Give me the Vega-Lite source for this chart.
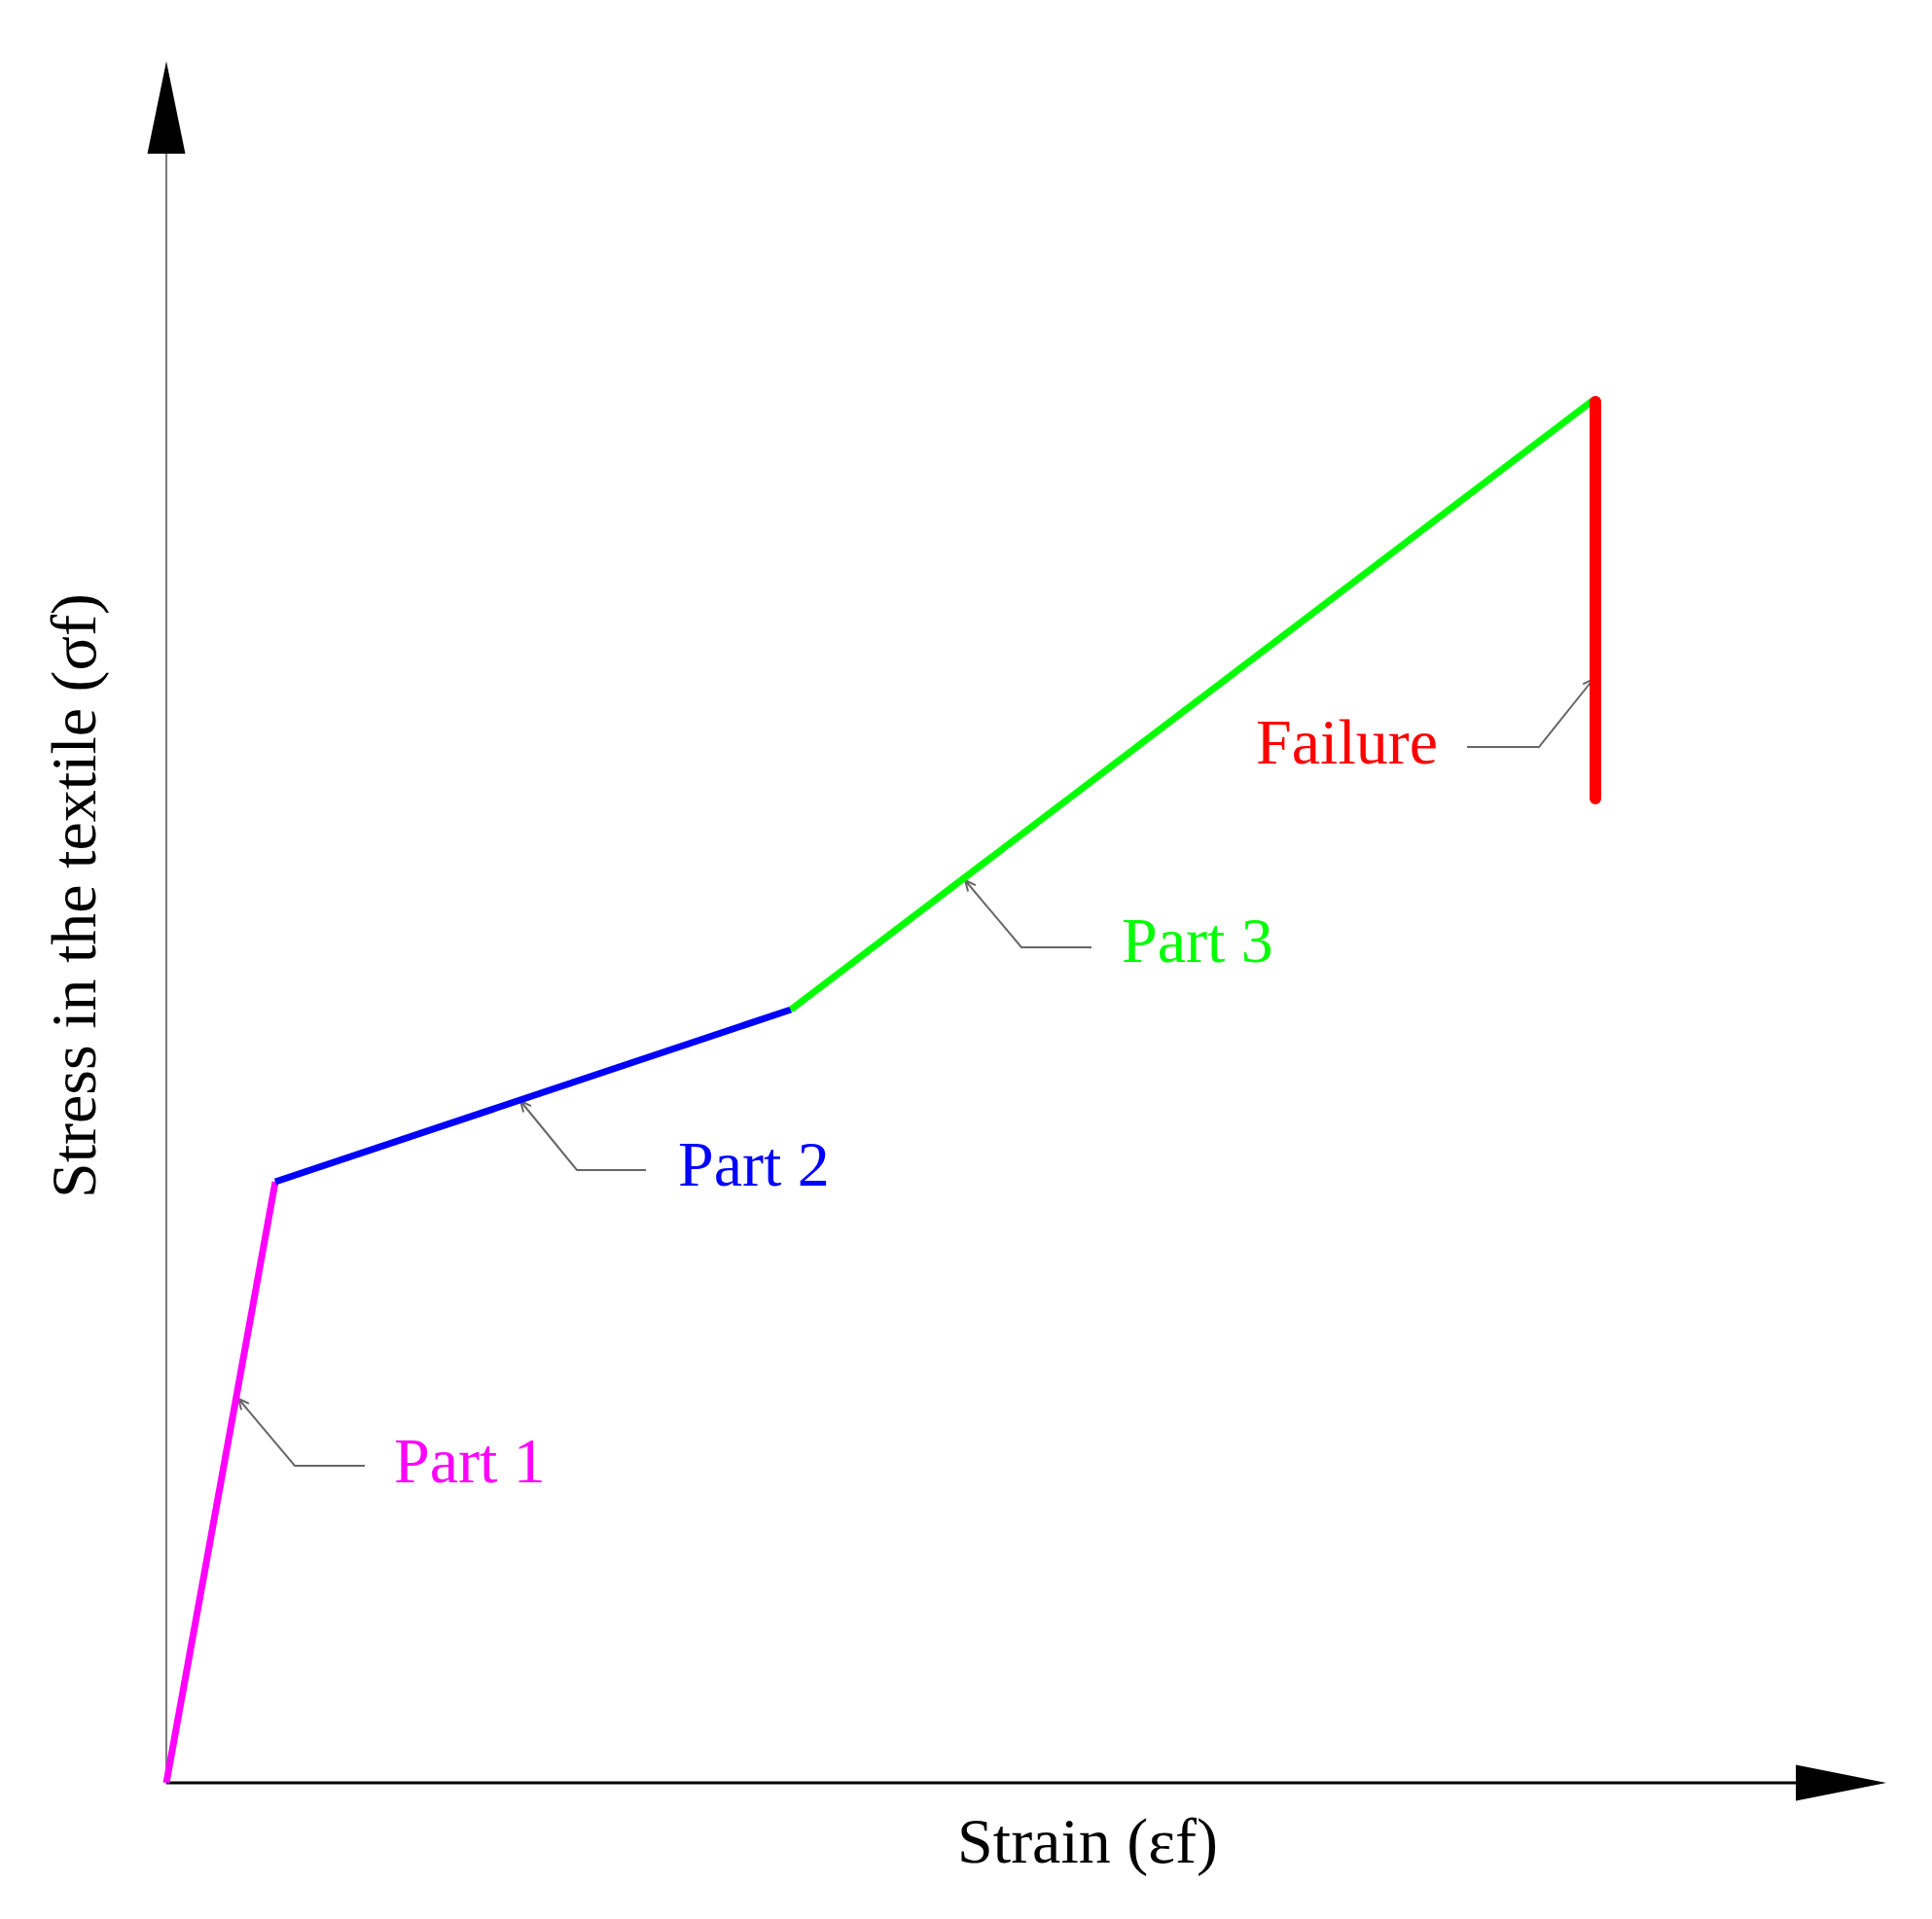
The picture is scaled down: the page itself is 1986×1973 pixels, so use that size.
{
  "$schema": "https://vega.github.io/schema/vega-lite/v6.json",
  "autosize": {"type": "none"},
  "padding": {"left": 171, "top": 63, "right": 47, "bottom": 140},
  "width": 1768,
  "height": 1770,
  "background": "white",
  "config": {"view": {"stroke": null}},
  "datasets": {
    "curve": [
      {"part": "Part 1", "x": 0, "y": 0, "o": 0},
      {"part": "Part 1", "x": 112, "y": 618, "o": 1},
      {"part": "Part 2", "x": 112, "y": 618, "o": 0},
      {"part": "Part 2", "x": 642, "y": 795, "o": 1},
      {"part": "Part 3", "x": 642, "y": 795, "o": 0},
      {"part": "Part 3", "x": 1466, "y": 1421, "o": 1}
    ],
    "failure": [
      {"part": "Failure", "x": 1469, "y": 1012, "y2": 1420}
    ],
    "axisX": [{"x": 0, "y": 0, "x2": 1721, "y2": 0}],
    "axisY": [{"x": 0, "y": 0, "x2": 0, "y2": 1722}],
    "arrowY": [{"x": 0, "y": 1722.5}],
    "arrowX": [{"x": 1721.5, "y": 0}],
    "leaders": [
      {"part": "Part 1", "o": 0, "x": 204, "y": 326},
      {"part": "Part 1", "o": 1, "x": 132, "y": 326},
      {"part": "Part 1", "o": 2, "x": 74, "y": 395},
      {"part": "Part 1", "o": 3, "x": 84.9, "y": 389.9},
      {"part": "Part 1", "o": 4, "x": 74, "y": 395},
      {"part": "Part 1", "o": 5, "x": 77.1, "y": 383.4},
      {"part": "Part 2", "o": 0, "x": 493, "y": 630},
      {"part": "Part 2", "o": 1, "x": 422, "y": 630},
      {"part": "Part 2", "o": 2, "x": 364, "y": 701},
      {"part": "Part 2", "o": 3, "x": 374.9, "y": 695.9},
      {"part": "Part 2", "o": 4, "x": 364, "y": 701},
      {"part": "Part 2", "o": 5, "x": 367.1, "y": 689.4},
      {"part": "Part 3", "o": 0, "x": 951, "y": 859},
      {"part": "Part 3", "o": 1, "x": 879, "y": 859},
      {"part": "Part 3", "o": 2, "x": 821, "y": 928},
      {"part": "Part 3", "o": 3, "x": 831.9, "y": 922.9},
      {"part": "Part 3", "o": 4, "x": 821, "y": 928},
      {"part": "Part 3", "o": 5, "x": 824.1, "y": 916.4},
      {"part": "Failure", "o": 0, "x": 1337, "y": 1065},
      {"part": "Failure", "o": 1, "x": 1411, "y": 1065},
      {"part": "Failure", "o": 2, "x": 1467, "y": 1135},
      {"part": "Failure", "o": 3, "x": 1464.2, "y": 1123.3},
      {"part": "Failure", "o": 4, "x": 1467, "y": 1135},
      {"part": "Failure", "o": 5, "x": 1456.2, "y": 1129.7}
    ],
    "labelsLeft": [
      {"part": "Part 1", "x": 234, "y": 309},
      {"part": "Part 2", "x": 526, "y": 614},
      {"part": "Part 3", "x": 982, "y": 844}
    ],
    "labelsRight": [
      {"part": "Failure", "x": 1307, "y": 1048}
    ],
    "xtitle": [{"t": "Strain (εf)", "x": 947, "y": -82}],
    "ytitle": [{"t": "Stress in the textile (σf)", "x": -73, "y": 912}]
  },
  "layer": [
    {
      "data": {"name": "axisX"},
      "mark": {"type": "rule", "strokeCap": "butt", "color": "#000000", "strokeWidth": 3},
      "encoding": {
        "x": {"field": "x", "type": "quantitative", "scale": {"domain": [0, 1768], "nice": false, "zero": false}, "axis": null},
        "y": {"field": "y", "type": "quantitative", "scale": {"domain": [0, 1770], "nice": false, "zero": false}, "axis": null},
        "x2": {"field": "x2"},
        "y2": {"field": "y2"}
      }
    },
    {
      "data": {"name": "axisY"},
      "mark": {"type": "rule", "strokeCap": "butt", "color": "#7a7a7a", "strokeWidth": 2},
      "encoding": {
        "x": {"field": "x", "type": "quantitative"},
        "y": {"field": "y", "type": "quantitative"},
        "x2": {"field": "x2"},
        "y2": {"field": "y2"}
      }
    },
    {
      "data": {"name": "arrowY"},
      "mark": {"type": "point", "shape": "M0,-1L0.41,1L-0.41,1Z", "size": 9025, "filled": true, "color": "#000000", "opacity": 1, "strokeWidth": 0},
      "encoding": {
        "x": {"field": "x", "type": "quantitative"},
        "y": {"field": "y", "type": "quantitative"}
      }
    },
    {
      "data": {"name": "arrowX"},
      "mark": {"type": "point", "shape": "M1,0L-1,-0.4L-1,0.4Z", "size": 8649, "filled": true, "color": "#000000", "opacity": 1, "strokeWidth": 0},
      "encoding": {
        "x": {"field": "x", "type": "quantitative"},
        "y": {"field": "y", "type": "quantitative"}
      }
    },
    {
      "data": {"name": "leaders"},
      "mark": {"type": "line", "color": "#666666", "strokeWidth": 2, "strokeJoin": "miter"},
      "encoding": {
        "x": {"field": "x", "type": "quantitative"},
        "y": {"field": "y", "type": "quantitative"},
        "detail": {"field": "part", "type": "nominal"},
        "order": {"field": "o", "type": "quantitative"}
      }
    },
    {
      "data": {"name": "curve"},
      "mark": {"type": "line", "strokeWidth": 7, "strokeCap": "butt"},
      "encoding": {
        "x": {"field": "x", "type": "quantitative"},
        "y": {"field": "y", "type": "quantitative"},
        "order": {"field": "o", "type": "quantitative"},
        "color": {"field": "part", "type": "nominal", "scale": {"domain": ["Part 1", "Part 2", "Part 3", "Failure"], "range": ["#FF00FF", "#0000FF", "#00FF00", "#FF0000"]}, "legend": null}
      }
    },
    {
      "data": {"name": "failure"},
      "mark": {"type": "rule", "strokeWidth": 12, "strokeCap": "round"},
      "encoding": {
        "x": {"field": "x", "type": "quantitative"},
        "y": {"field": "y", "type": "quantitative"},
        "y2": {"field": "y2"},
        "color": {"field": "part", "type": "nominal", "legend": null}
      }
    },
    {
      "data": {"name": "labelsLeft"},
      "mark": {"type": "text", "align": "left", "baseline": "alphabetic", "font": "Liberation Serif", "fontSize": 66},
      "encoding": {
        "x": {"field": "x", "type": "quantitative"},
        "y": {"field": "y", "type": "quantitative"},
        "text": {"field": "part"},
        "color": {"field": "part", "type": "nominal", "legend": null}
      }
    },
    {
      "data": {"name": "labelsRight"},
      "mark": {"type": "text", "align": "right", "baseline": "alphabetic", "font": "Liberation Serif", "fontSize": 66},
      "encoding": {
        "x": {"field": "x", "type": "quantitative"},
        "y": {"field": "y", "type": "quantitative"},
        "text": {"field": "part"},
        "color": {"field": "part", "type": "nominal", "legend": null}
      }
    },
    {
      "data": {"name": "xtitle"},
      "mark": {"type": "text", "align": "center", "baseline": "alphabetic", "font": "Liberation Serif", "fontSize": 66, "color": "#000000"},
      "encoding": {
        "x": {"field": "x", "type": "quantitative"},
        "y": {"field": "y", "type": "quantitative"},
        "text": {"field": "t"}
      }
    },
    {
      "data": {"name": "ytitle"},
      "mark": {"type": "text", "align": "center", "baseline": "alphabetic", "angle": 270, "font": "Liberation Serif", "fontSize": 66, "color": "#000000"},
      "encoding": {
        "x": {"field": "x", "type": "quantitative"},
        "y": {"field": "y", "type": "quantitative"},
        "text": {"field": "t"}
      }
    }
  ]
}
